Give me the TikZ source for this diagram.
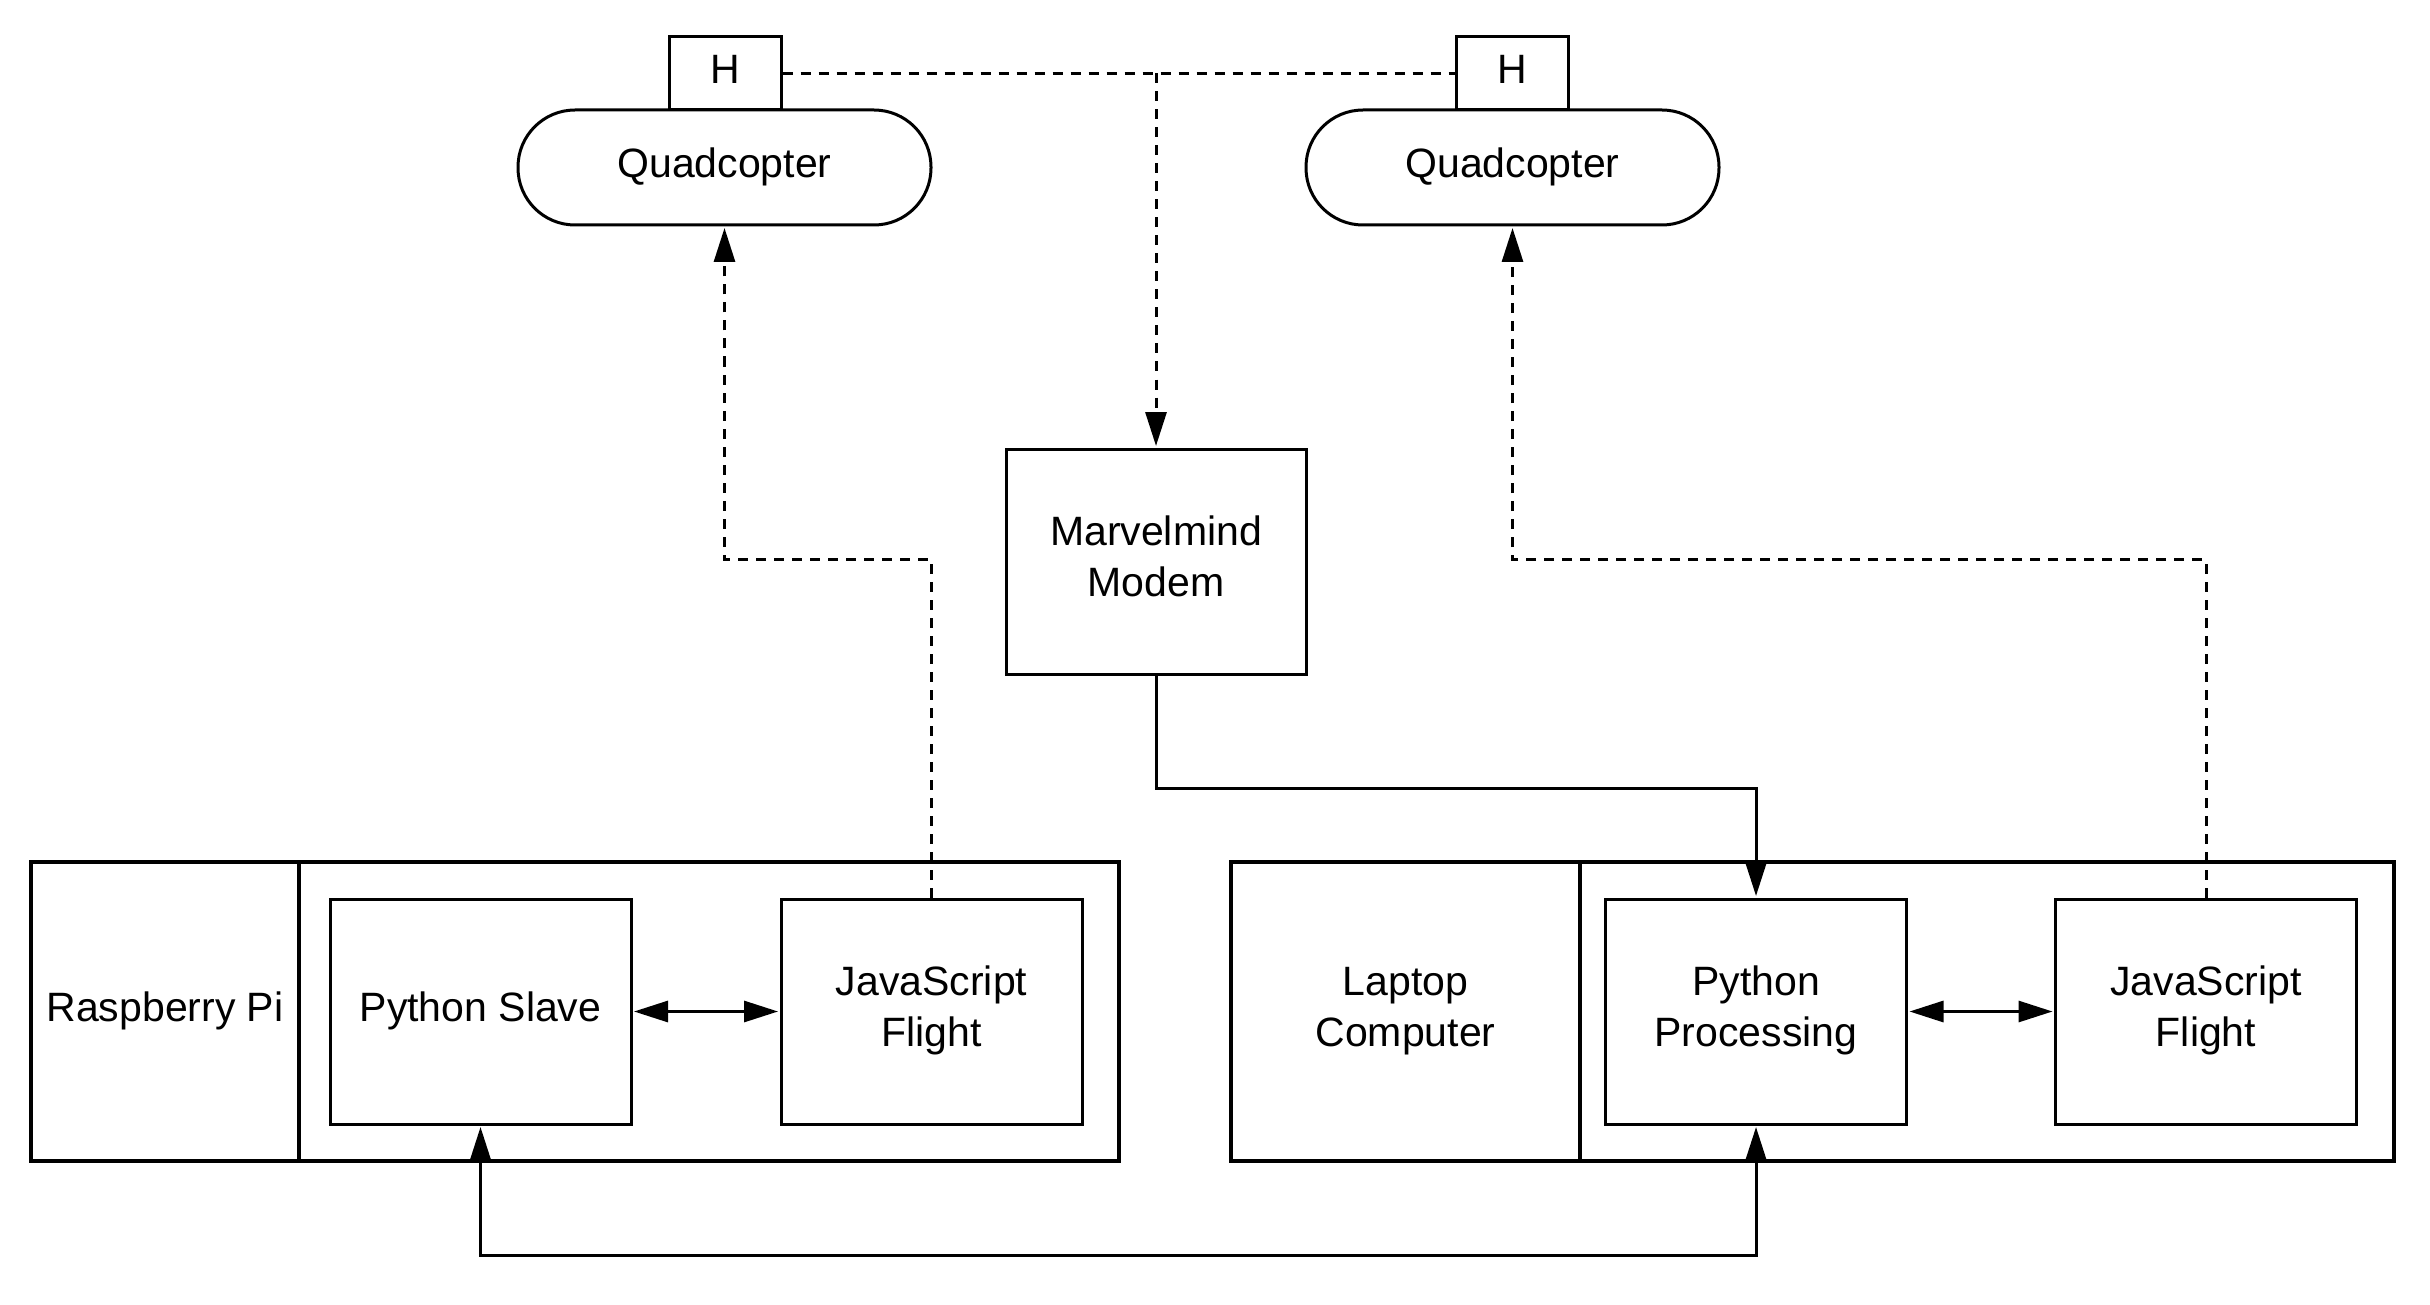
\documentclass[tikz,border=0pt]{standalone}
\usepackage{fontspec}
\setmainfont{Liberation Sans}
\usetikzlibrary{arrows.meta}
\begin{document}
\begin{tikzpicture}[x=1pt,y=-1pt,
  box/.style={draw, line width=3pt, inner sep=0pt, align=center, font=\fontsize{41}{51.5}\selectfont},
  one/.style={text height=30pt, text depth=10.6pt},
  two/.style={text height=81.5pt, text depth=10.6pt},
  outerbox/.style={box, line width=3.5pt},
  conn/.style={line width=3pt},
  dsh/.style={conn, dash pattern=on 10pt off 8pt},
  endtip/.style={-{Triangle[length=34pt,width=21pt]}, shorten >=1.5pt},
  bothtip/.style={{Triangle[length=34pt,width=21pt]}-{Triangle[length=34pt,width=21pt]}, shorten >=1.5pt, shorten <=1.5pt},
]
\useasboundingbox (0,0) rectangle (2430,1305);

% Quadcopters with H tags
\node[box, one, minimum width=112pt, minimum height=73pt] (h1) at (725,73.5) {H};
\node[box, one, minimum width=413pt, minimum height=115pt, rounded corners=57pt] (q1) at (724.5,167.5) {Quadcopter};
\node[box, one, minimum width=112pt, minimum height=73pt] (h2) at (1512.5,73.5) {H};
\node[box, one, minimum width=413pt, minimum height=115pt, rounded corners=57pt] (q2) at (1512.5,167.5) {Quadcopter};

% Modem
\node[box, two, minimum width=300pt, minimum height=225pt] (modem) at (1156,561.5) {Marvelmind\\Modem};

% Raspberry Pi group
\node[outerbox, one, minimum width=268pt, minimum height=299pt] (rpiL) at (165,1011.5) {Raspberry Pi};
\node[outerbox, minimum width=820pt, minimum height=299pt] (rpiR) at (709,1011.5) {};
\node[box, one, minimum width=301pt, minimum height=225pt] (ps) at (480.5,1011.5) {Python Slave};
\node[box, two, minimum width=301pt, minimum height=225pt] (js1) at (931.5,1011.5) {JavaScript\\Flight};

% Laptop group
\node[outerbox, two, minimum width=349pt, minimum height=299pt] (lapL) at (1405.5,1011.5) {Laptop\\Computer};
\node[outerbox, minimum width=814pt, minimum height=299pt] (lapR) at (1987,1011.5) {};
\node[box, two, minimum width=301pt, minimum height=225pt] (pp) at (1756,1011.5) {Python\\Processing};
\node[box, two, minimum width=301pt, minimum height=225pt] (js2) at (2206,1011.5) {JavaScript\\Flight};

% Connectors
\coordinate (j) at (modem.north |- h1.east);
\draw[dsh] (h1.east) -- (h2.west);
\draw[dsh, endtip] (j) -- (modem.north);
\draw[conn, endtip] (modem.south) -- ++(0,113) -| (pp.north);
\draw[dsh, endtip] (js1.north) -- ++(0,-338) -| (q1.south);
\draw[dsh, endtip] (js2.north) -- ++(0,-338) -| (q2.south);
\draw[conn, bothtip] (ps.east) -- (js1.west);
\draw[conn, bothtip] (pp.east) -- (js2.west);
\draw[conn, bothtip] (ps.south) -- ++(0,130) -| (pp.south);
\end{tikzpicture}
\end{document}
